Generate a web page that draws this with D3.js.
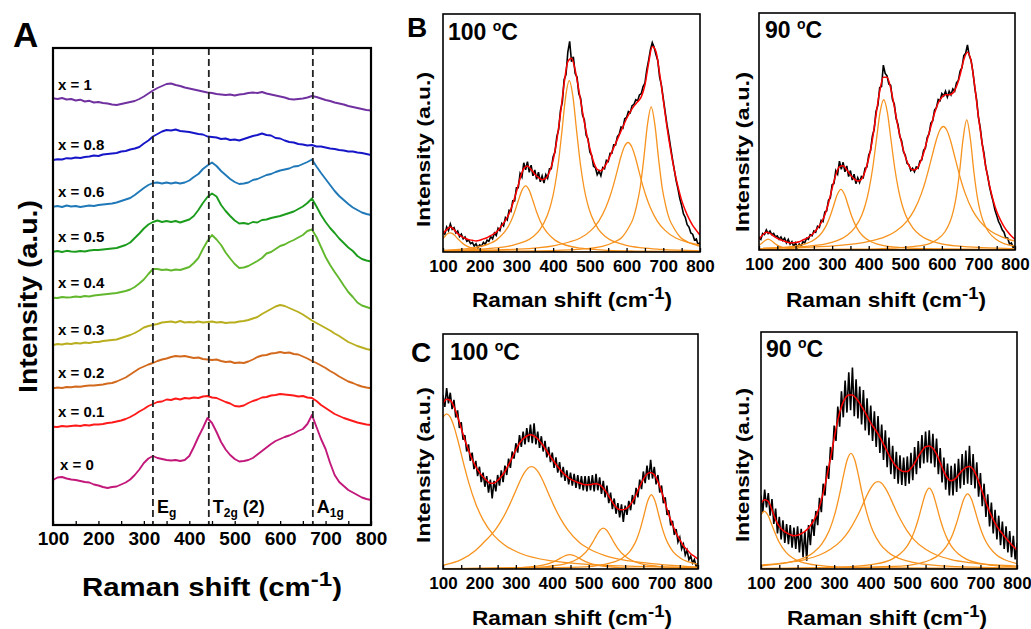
<!DOCTYPE html>
<html>
<head>
<meta charset="utf-8">
<script src="https://cdn.jsdelivr.net/npm/d3@7"></script>
<style>
body { margin: 0; background: #fff; }
text { font-family: "Liberation Sans", Arial, sans-serif; font-weight: bold; fill: #000; }
</style>
</head>
<body>
<script>
// ---------- data ----------
// Panel A: spectra sampled every 10 cm-1, values relative to each trace's own baseline
var shiftA = d3.range(100, 801, 10);
var labelsA = ["x = 1", "x = 0.8", "x = 0.6", "x = 0.5", "x = 0.4", "x = 0.3", "x = 0.2", "x = 0.1", "x = 0"];
var colorsA = ["#7030a0", "#1616c8", "#1f78b8", "#1c9c1c", "#62b82c", "#b8ae1e", "#d2691c", "#ff1a1a", "#c2187a"];
var offsetA = [425, 365, 318, 273, 227, 180, 137, 98, 45];

var specX10 = [1.7,1.0,2.0,0.5,1.0,-0.5,0.3,-1.5,-0.8,-2.5, -2.0,-3.0,-3.5,-4.5,-5.0,-4.0,-3.0,-2.0,-1.0,1.0,
  3.5,6.5,9.5,12.0,14.0,16.0,16.5,15.0,14.0,12.5, 11.5,10.5,9.5,8.5,7.5,7.0,6.0,5.5,5.0,5.5,
  4.5,5.5,6.0,7.0,7.5,7.0,8.0,6.5,5.5,4.5, 3.5,2.5,1.0,0.5,1.0,1.5,2.5,4.0,3.0,1.5,
  0.0,-1.0,-2.5,-3.5,-4.5,-6.0,-7.0,-8.0,-9.0,-10.0, -10.5];
var specX08 = [0.0,0.8,0.5,1.8,1.5,2.5,2.0,3.0,3.5,4.5, 4.0,5.5,6.0,6.5,7.0,8.5,9.0,10.5,11.5,13.0,
  16.5,19.5,23.5,26.0,28.5,30.0,29.5,30.5,29.0,28.5, 28.0,27.0,26.0,25.5,23.5,23.0,22.5,21.0,21.5,20.0,
  20.5,19.5,21.0,22.5,24.0,25.0,26.5,25.0,24.5,22.0, 21.5,19.5,18.0,17.5,16.0,15.5,14.5,15.0,13.5,13.5,
  12.5,11.5,11.0,10.0,9.5,8.5,8.5,7.5,7.0,6.0, 5.0];
var specX06 = [0.3,1.0,0.0,1.5,0.5,1.0,0.0,0.8,1.5,1.0, 2.0,2.5,3.0,3.5,4.5,6.0,7.5,9.0,12.0,15.5,
  19.0,22.0,24.0,24.5,23.5,24.5,23.5,24.5,23.5,24.5, 26.5,30.0,33.0,38.0,41.5,44.5,41.0,36.0,32.0,28.0,
  25.0,23.0,23.5,24.5,27.0,28.0,30.0,32.0,33.0,35.0, 36.5,37.5,38.5,40.5,41.0,43.0,45.0,47.5,40.5,34.0,
  28.0,22.0,16.0,11.0,7.0,3.0,-0.5,-3.0,-5.5,-7.0, -8.0];
var specX05 = [0.3,1.0,0.0,1.2,0.5,0.3,1.0,0.5,1.5,2.0, 2.0,2.5,3.0,3.5,4.0,5.5,7.0,9.5,14.0,18.5,
  23.5,27.5,30.0,31.5,30.0,31.0,30.0,31.0,29.5,31.0, 32.5,36.0,42.0,49.0,55.0,58.5,55.5,47.0,41.0,36.0,
  31.5,28.5,29.0,28.0,30.0,29.5,32.0,32.5,34.0,35.0, 36.0,37.5,39.0,40.5,43.0,45.5,49.0,53.5,45.5,37.0,
  30.0,24.0,19.0,13.5,9.0,4.5,1.0,-4.0,-7.0,-8.5, -9.5];
var specX04 = [0.3,0.0,1.0,0.5,0.8,1.5,1.0,2.0,1.5,2.5, 3.0,3.5,4.0,4.5,5.0,6.0,7.0,8.5,11.0,14.5,
  18.5,24.0,29.0,29.0,28.0,28.5,27.5,28.5,28.0,29.5, 31.0,35.0,40.0,49.0,57.0,63.0,58.5,53.0,45.5,39.5,
  34.0,30.0,30.5,32.0,34.5,37.0,40.0,44.5,46.0,49.0, 52.0,53.5,56.0,58.0,60.5,63.0,67.0,68.5,61.0,51.0,
  41.0,33.0,26.0,19.5,12.5,6.0,1.0,-4.5,-7.5,-9.0, -10.5];
var specX03 = [0.0,1.0,0.5,1.5,1.0,2.0,1.5,2.5,2.0,3.0, 3.0,4.0,4.5,5.0,5.5,7.0,8.5,10.0,12.0,14.5,
  17.5,19.0,20.0,21.0,22.5,23.0,23.5,22.5,24.0,22.5, 23.0,22.5,23.5,22.5,23.0,23.5,22.5,23.0,22.0,22.5,
  22.5,23.5,24.0,25.0,26.5,28.0,31.0,33.5,36.0,38.5, 40.0,39.0,37.0,35.0,33.0,30.5,27.5,24.5,22.0,19.5,
  17.0,14.5,11.5,9.0,6.0,3.0,1.0,-1.0,-2.5,-4.0, -5.0];
var specX02 = [-0.3,0.5,0.0,1.0,0.8,1.5,1.2,2.0,2.5,2.5, 3.0,3.5,4.5,5.0,6.5,8.5,10.5,13.5,16.5,19.5,
  21.5,23.5,25.0,27.0,28.5,29.5,31.0,32.0,31.5,32.0, 31.0,30.0,30.5,29.0,28.5,28.0,28.5,27.0,26.0,26.5,
  25.0,25.5,25.0,26.5,28.5,31.0,32.5,33.0,34.5,35.0, 36.0,35.0,35.5,34.0,33.5,31.5,29.5,27.0,25.0,22.5,
  20.0,17.0,14.5,11.5,9.0,6.5,5.0,3.0,1.5,0.5, -0.3];
var specX01 = [0.3,0.0,1.0,0.5,1.0,1.5,1.0,2.0,1.5,2.5, 2.5,3.0,4.0,4.5,5.5,6.5,8.0,10.0,12.5,15.5,
  18.0,21.0,23.0,25.0,25.5,27.5,27.0,28.5,27.5,29.0, 28.5,29.5,29.0,30.5,31.0,29.5,29.0,27.0,25.0,23.5,
  21.0,20.5,21.5,24.0,26.0,27.5,29.5,30.0,31.5,32.0, 33.0,32.5,32.0,31.5,30.5,31.0,29.5,29.0,26.0,22.0,
  19.0,16.0,13.0,11.0,9.0,7.5,6.0,4.5,3.5,2.5, 2.0];
var specX00 = [0.0,2.5,3.0,1.5,0.5,0.0,-1.0,-2.0,-2.5,-4.5, -5.5,-7.0,-8.0,-7.0,-6.5,-4.5,-2.5,0.5,5.0,10.5,
  17.0,21.5,24.0,22.0,21.0,20.0,19.5,20.0,19.0,20.0, 24.0,33.0,43.0,52.0,62.0,57.0,48.0,38.0,30.5,25.0,
  21.0,18.5,19.0,20.0,22.0,25.5,29.0,32.5,36.0,39.0, 41.0,43.0,44.5,46.5,49.0,51.0,56.0,65.0,53.0,41.0,
  31.0,17.0,5.0,-2.0,-6.0,-10.0,-12.5,-15.0,-17.5,-19.0, -20.0];
var specA = [specX10, specX08, specX06, specX05, specX04, specX03, specX02, specX01, specX00];

var modesA = [320, 443, 672];
var modeNames = [["E", "g", ""], ["T", "2g", " (2)"], ["A", "1g", ""]];

// Panels B, C: measured spectrum every 5 cm-1, fitted sum every 10 cm-1, fitted bands as [shift, intensity]
var shiftRaw = d3.range(100, 801, 5);
var shiftFit = d3.range(100, 801, 10);
var ticksX = d3.range(100, 801, 50);

var rawB100 = [8.5,7.5,10.5,9.0,11.8,9.5,10.2,8.0,8.8,6.5, 7.5,5.5,6.3,4.5,5.0,3.5,4.0,2.5,3.5,1.8,
  3.0,2.5,4.0,3.2,5.0,4.5,6.5,5.5,8.0,7.0, 10.0,9.0,12.0,11.0,14.5,13.5,17.5,17.0,21.5,21.5,
  27.0,27.0,33.0,31.5,37.5,34.5,38.0,33.5,36.5,32.0, 34.5,30.5,33.5,29.5,32.0,29.0,32.5,31.0,35.0,35.0,
  40.0,42.0,48.5,51.5,59.5,63.0,72.5,74.5,84.0,88.5, 80.0,82.0,75.0,73.5,66.5,64.5,57.5,55.5,49.0,47.5,
  42.0,40.5,36.0,35.5,32.5,34.0,32.0,35.5,35.0,38.5, 38.0,41.5,41.5,45.0,45.0,48.5,49.5,52.5,52.0,56.0,
  56.5,59.0,58.5,61.5,62.0,64.0,63.5,66.0,66.5,69.5, 71.0,76.5,80.5,85.0,88.0,86.0,83.0,80.5,73.5,70.0,
  64.5,59.0,53.5,49.0,44.0,39.0,34.5,30.0,26.5,22.5, 19.5,16.0,14.5,11.5,10.5,8.0,7.5,5.0,5.5,3.0, 4.0];
var fitB100 = [7.7,9.4,10.5,9.4,7.7,6.6,5.8,5.2,4.9,4.6, 4.9,5.5,6.0,6.9,7.7,9.1,11.1,13.3,16.1,20.3,
  25.3,30.9,35.1,36.1,34.7,32.7,31.3,30.4,30.9,33.7, 38.6,47.0,58.2,70.9,80.0,81.4,76.5,68.0,58.9,50.5,
  43.5,37.9,34.7,34.1,35.8,38.6,42.1,45.6,49.1,52.6, 56.1,58.9,61.3,63.1,65.2,70.1,79.3,86.3,84.2,75.1,
  63.8,52.6,42.8,34.4,27.4,21.7,17.5,14.0,11.2,9.1, 7.0];
var bandsB100 = [
  [[100,5.6],[105,6.5],[110,7.4],[115,7.9],[120,8],[125,7.8],[130,7.2],[140,5.6],[150,4.1],[160,2.9],[175,1.8],[200,1],[250,0.4],[350,0.15],[800,0]],
  [[100,0.7],[175,1.6],[225,3.4],[245,5.0],[265,7.9],[275,10],[285,12.9],[295,16.8],[305,21.5],[315,25.9],[325,27.8],[335,25.9],[345,21.5],[355,16.8],[365,12.9],[375,10],[385,7.9],[405,5],[425,3.4],[475,1.6],[550,0.7],[625,0.4],[800,0.17]],
  [[100,0.6],[194,1.1],[244,1.7],[294,3.0],[344,6.3],[364,9.4],[384,15.3],[394,20.1],[404,27.1],[414,37.2],[424,50.8],[434,65.2],[444,72],[454,65.2],[464,50.8],[474,37.2],[484,27.1],[494,20.1],[504,15.3],[524,9.4],[544,6.3],[594,3.0],[644,1.7],[694,1.1],[800,0.5]],
  [[100,0.45],[304,1.2],[404,2.7],[444,4.2],[474,5.9],[504,9.2],[524,12.9],[544,18.9],[554,23],[564,28],[574,33.8],[584,39.7],[594,44.2],[604,46],[614,44.2],[624,39.7],[634,33.8],[644,28],[654,23],[664,18.9],[684,12.9],[704,9.2],[734,5.9],[764,4.2],[800,3.0]],
  [[100,0.14],[367,0.5],[467,1.1],[534,2.4],[567,4.2],[587,6.1],[607,10.6],[617,13.7],[627,19.2],[637,27],[647,39.4],[657,53.6],[667,61],[677,53.6],[687,39.4],[697,27],[707,19.2],[717,13.7],[727,10.6],[747,6.1],[767,4.2],[800,2.4]]
];

var rawB90 = [5.5,4.5,7.0,6.5,8.5,7.0,8.0,6.5,7.0,5.5, 6.0,4.5,5.5,4.0,5.0,3.0,4.5,2.5,3.5,1.5,
  3.0,1.0,2.5,1.5,3.5,3.0,5.0,4.5,6.5,6.0, 8.0,7.5,10.0,9.5,12.5,12.0,16.0,16.5,21.0,22.0,
  27.5,28.0,33.5,32.0,37.5,34.0,37.0,33.0,35.5,31.0, 33.5,29.5,32.0,28.0,30.5,28.5,31.0,30.5,34.5,35.0,
  40.0,42.0,48.0,51.0,58.5,61.0,68.5,69.0,78.0,74.5, 73.5,70.0,69.5,63.5,61.5,55.5,53.0,48.0,46.0,41.5,
  40.0,36.5,36.0,33.5,34.5,33.0,35.0,34.5,37.5,38.0, 42.0,43.0,47.5,49.0,53.5,54.5,59.0,60.0,63.5,63.0,
  66.0,65.0,67.0,64.5,67.0,65.5,68.0,67.0,70.5,71.5, 75.5,77.0,82.0,83.0,86.5,82.0,80.0,75.0,68.5,63.5,
  56.0,51.5,45.0,41.0,35.0,31.5,27.0,23.5,20.5,17.0, 14.5,12.0,10.5,8.5,7.5,5.0,5.0,2.5,3.0,1.0, 2.0];
var fitB90 = [4.5,6.3,7.5,7.0,5.9,4.9,4.2,3.7,3.2,3.1, 3.2,3.5,4.2,4.9,5.9,7.3,9.2,11.5,14.8,19.7,
  26.0,31.7,35.2,35.6,33.8,31.7,30.0,29.1,29.8,33.1, 38.7,46.5,57.0,66.9,72.9,72.9,68.3,60.5,52.1,45.1,
  39.4,35.6,33.8,34.1,36.6,40.8,46.5,52.1,57.7,62.0, 64.5,65.5,65.5,66.2,69.0,73.9,80.3,83.4,79.6,69.0,
  56.3,45.1,35.2,27.5,21.1,16.2,12.7,9.9,7.7,5.9, 4.5];
var bandsB90 = [
  [[100,2.0],[105,2.5],[115,3.8],[125,4.6],[135,3.8],[145,2.5],[155,1.6],[175,0.75],[225,0.2],[800,0]],
  [[100,0.54],[174,1.2],[224,2.5],[244,3.7],[264,5.9],[274,7.8],[284,10.4],[294,14.0],[304,18.7],[314,23.4],[324,25.6],[334,23.4],[344,18.7],[354,14.0],[364,10.4],[374,7.8],[384,5.9],[404,3.7],[424,2.5],[474,1.2],[548,0.54],[800,0.2]],
  [[100,0.6],[241,1.7],[291,2.9],[341,6.2],[361,9.2],[381,14.7],[391,19.2],[401,25.7],[411,34.7],[421,46.4],[431,58.1],[441,63.4],[451,58.1],[461,46.4],[471,34.7],[481,25.7],[491,19.2],[501,14.7],[521,9.2],[541,6.2],[591,2.9],[641,1.7],[800,0.5]],
  [[100,0.6],[304,1.7],[404,3.7],[444,5.5],[474,7.9],[504,12.1],[524,16.7],[544,23.8],[554,28.5],[564,34.1],[574,40.1],[584,46],[594,50.4],[604,52.1],[614,50.4],[624,46],[634,40.1],[644,34.1],[654,28.5],[664,23.8],[684,16.7],[704,12.1],[734,7.9],[764,5.5],[800,3.7]],
  [[100,0.1],[368,0.35],[468,0.8],[536,1.7],[568,2.8],[588,4.5],[608,7.6],[618,10.3],[628,14.5],[638,21.4],[648,32.4],[658,46.8],[668,54.9],[678,46.8],[688,32.4],[698,21.4],[708,14.5],[718,10.3],[728,7.6],[748,4.5],[768,2.8],[800,1.7]]
];

var rawC100 = [74.0,69.0,77.0,70.5,75.0,68.0,72.0,64.5,67.5,60.0, 62.5,55.0,57.0,50.0,53.0,46.0,49.5,42.5,46.0,39.5,
  43.5,37.0,41.0,35.0,39.5,32.5,38.0,30.0,37.5,33.0, 40.0,35.5,42.0,37.0,44.0,40.0,47.0,43.0,50.0,47.0,
  53.5,49.5,57.0,52.0,58.5,53.0,60.0,54.0,61.5,53.5, 62.0,53.0,58.5,51.5,56.5,50.0,54.5,47.5,52.0,45.5,
  49.5,43.0,47.5,41.0,45.5,39.0,43.5,37.5,42.0,36.0, 41.0,35.5,40.5,34.5,40.0,34.0,39.5,33.5,39.5,33.0,
  39.5,33.5,40.0,33.0,40.5,33.5,39.0,32.0,37.5,30.5, 35.5,28.0,32.5,25.5,30.0,23.5,28.0,22.0,27.5,20.0,
  27.0,23.0,29.0,25.0,31.5,27.5,34.5,30.5,38.0,34.0, 41.5,36.5,44.0,38.0,46.5,38.5,43.5,36.0,40.0,32.5,
  35.5,28.0,30.5,23.0,25.0,18.5,20.5,14.5,17.0,11.5, 13.5,8.5,10.5,6.0,8.0,4.0,5.5,2.5,4.0,1.0, 2.5];
var fitC100 = [70.5,72.2,71.7,69.1,64.9,59.9,54.9,50.7,46.7,43.6, 41.1,39.1,37.7,36.5,36.5,37.7,39.4,41.5,44.3,47.4,
  50.7,53.5,55.4,56.6,57.1,56.6,55.4,53.5,51.4,49.0, 46.7,44.6,42.6,40.8,39.4,38.2,37.5,36.8,36.3,35.8,
  35.8,36.1,36.3,35.8,34.4,32.3,29.7,27.3,25.6,25.2, 25.5,26.6,28.7,31.6,35.1,38.2,40.4,41.1,40.1,37.2,
  33.0,28.0,23.1,18.8,15.3,12.5,9.9,8.2,6.5,5.4, 4.2];
var bandsC100 = [
  [[100,64.6],[110,66],[120,64.6],[130,60.7],[140,55.2],[150,49],[160,42.8],[170,37.1],[190,27.7],[210,20.9],[240,14.2],[270,10.1],[310,6.8],[410,3.2],[510,1.8],[610,1.2],[800,0.6]],
  [[100,1.6],[150,4.0],[190,8.0],[213,11.5],[243,16.5],[263,21.3],[283,27.4],[293,30.9],[303,34.5],[313,38],[323,40.9],[333,42.9],[343,43.6],[353,42.9],[363,40.9],[373,38],[383,34.5],[393,30.9],[403,27.4],[423,21.3],[443,16.5],[473,11.5],[503,8.4],[543,5.8],[586,4.1],[643,2.8],[800,0.8]],
  [[100,0.1],[298,0.5],[358,1.2],[388,2.2],[403,3.05],[418,4.2],[428,5.1],[438,5.8],[448,6.1],[458,5.8],[468,5.1],[478,4.2],[493,3.05],[508,2.2],[538,1.2],[598,0.5],[800,0.1]],
  [[100,0.14],[340,0.67],[390,1.15],[440,2.4],[460,3.5],[480,5.4],[500,8.7],[510,11.1],[520,13.9],[530,16.4],[540,17.4],[550,16.4],[560,13.9],[570,11.1],[580,8.7],[600,5.4],[620,3.5],[640,2.4],[690,1.15],[740,0.67],[800,0.4]],
  [[100,0.1],[472,0.8],[544,2.0],[572,3.1],[592,4.6],[612,7.3],[622,9.6],[632,12.8],[642,17.3],[652,23.1],[662,28.9],[672,31.6],[682,28.9],[692,23.1],[702,17.3],[712,12.8],[722,9.6],[732,7.3],[752,4.6],[772,3.1],[800,2.0]]
];

var rawC90 = [31.0,24.0,33.5,26.0,32.0,22.5,29.5,19.0,25.5,15.0, 22.0,12.5,20.5,11.0,19.0,10.5,18.5,9.0,17.5,8.5,
  18.0,7.0,17.0,5.0,16.0,3.5,18.5,10.0,21.0,14.0, 24.5,18.5,30.0,24.0,36.0,31.0,43.5,38.0,51.5,46.0,
  60.5,54.0,68.5,60.0,75.0,64.0,79.5,66.0,83.0,67.0, 85.0,64.5,80.0,63.5,77.0,61.0,75.5,58.5,72.0,56.5,
  69.0,54.0,66.5,51.5,64.5,49.0,61.0,46.0,58.5,43.0, 55.5,40.0,52.0,38.0,49.5,36.0,48.0,35.5,47.0,35.0,
  47.5,36.0,49.0,37.5,51.5,40.0,54.0,42.5,56.5,44.5, 58.0,45.0,58.5,44.5,57.0,43.0,55.0,40.0,51.0,36.5,
  47.0,33.5,44.5,31.0,43.5,31.0,44.5,32.5,46.5,34.0, 48.5,35.5,50.0,36.0,52.0,35.5,48.5,34.0,45.0,30.5,
  40.5,26.5,36.0,22.0,31.5,18.0,28.0,15.0,25.0,12.5, 22.5,10.0,20.0,8.5,18.0,7.0,16.0,5.0,14.0,4.0, 11.0];
var fitC90 = [27.8,29.2,28.5,25.0,20.8,18.0,16.3,15.2,14.5,14.0, 14.2,14.9,15.9,17.3,19.4,22.2,26.4,32.0,39.0,46.7,
  55.1,62.9,68.5,72.0,73.4,73.4,72.0,69.9,67.3,64.5, 61.7,59.3,57.0,54.2,51.2,48.1,45.3,43.2,41.8,41.1,
  41.1,42.5,44.6,47.4,49.8,51.6,51.9,50.9,48.5,44.9, 41.1,38.3,37.2,37.9,39.7,41.5,42.8,43.2,42.1,39.0,
  34.8,30.3,26.1,22.4,19.4,16.8,14.9,13.0,11.2,9.5, 8.1];
var bandsC90 = [
  [[100,23.0],[109,24.3],[119,22.7],[129,18.9],[139,15],[149,11.5],[169,6.9],[189,4.4],[209,3.0],[259,1.5],[359,0.55],[800,0.1]],
  [[100,1.35],[196,3.5],[246,7.3],[266,10.5],[286,16.0],[296,20.2],[306,25.6],[316,32.3],[326,39.8],[336,46.2],[346,48.8],[356,46.2],[366,39.8],[376,32.3],[386,25.6],[396,20.2],[406,16.0],[426,10.5],[446,7.3],[496,3.5],[592,1.35],[800,0.41]],
  [[100,1.7],[170,2.7],[220,4.0],[260,5.9],[290,8.3],[320,12.1],[340,16.0],[360,21.3],[370,24.4],[380,27.8],[390,31.2],[400,34.1],[410,36.2],[420,36.9],[430,36.2],[440,34.1],[450,31.2],[460,27.8],[470,24.4],[480,21.3],[500,16.0],[520,12.1],[550,8.3],[580,5.9],[620,4.0],[670,2.7],[740,1.7],[800,1.2]],
  [[100,0.23],[320,0.83],[410,2.05],[460,4.3],[480,6.3],[500,9.8],[510,12.5],[520,16.2],[530,21.0],[540,26.7],[550,31.9],[560,34.1],[570,31.9],[580,26.7],[590,21.0],[600,16.2],[610,12.5],[620,9.8],[640,6.3],[660,4.3],[710,2.05],[800,0.83]],
  [[100,0.14],[465,1.1],[530,2.3],[565,4.0],[585,5.8],[605,9.1],[615,11.6],[625,15.0],[635,19.5],[645,24.8],[655,29.6],[665,31.7],[675,29.6],[685,24.8],[695,19.5],[705,15.0],[715,11.6],[725,9.1],[745,5.8],[765,4.0],[800,2.3]]
];

// ---------- drawing ----------
var svg = d3.select("body").append("svg")
  .attr("width", 1031)
  .attr("height", 629);

// "Raman shift (cm-1)" with raised -1
function xTitle(x0, y0, size, len) {
  var t = svg.append("text")
    .attr("x", x0)
    .attr("y", y0)
    .attr("font-size", size)
    .attr("textLength", len)
    .attr("lengthAdjust", "spacingAndGlyphs");
  t.append("tspan").text("Raman shift (cm");
  t.append("tspan").attr("dy", -size * 0.4).attr("font-size", size * 0.82).text("-1");
  t.append("tspan").attr("dy", size * 0.4).text(")");
}

// rotated "Intensity (a.u.)"
function yTitle(bx, by, size, len) {
  svg.append("text")
    .attr("transform", "translate(" + bx + "," + by + ") rotate(-90)")
    .attr("font-size", size)
    .attr("textLength", len)
    .attr("lengthAdjust", "spacingAndGlyphs")
    .text("Intensity (a.u.)");
}

function bottomTicks(g, x, size, pad) {
  g.call(d3.axisBottom(x)
      .tickValues(ticksX)
      .tickSizeInner(-4)
      .tickSizeOuter(0)
      .tickPadding(pad)
      .tickFormat(function (d) { return d % 100 === 0 ? d : ""; }));
  g.select(".domain").remove();
  g.selectAll(".tick line").attr("stroke", "#000").attr("stroke-width", 1.3);
  g.selectAll(".tick text")
    .attr("font-size", size)
    .attr("font-family", "'Liberation Sans', Arial, sans-serif")
    .attr("font-weight", "bold")
    .attr("fill", "#000");
}

// Panel A
var xA = d3.scaleLinear().domain([100, 800]).range([53, 371]);
var yA = d3.scaleLinear().domain([0, 477]).range([525, 48]);

svg.append("clipPath").attr("id", "clipA")
  .append("rect").attr("x", 53).attr("y", 48).attr("width", 318).attr("height", 477);

var gA = svg.append("g").attr("clip-path", "url(#clipA)");
specA.forEach(function (s, k) {
  var line = d3.line()
    .x(function (d, i) { return xA(shiftA[i]); })
    .y(function (d) { return yA(d + offsetA[k]); });
  gA.append("path")
    .attr("d", line(s))
    .attr("fill", "none")
    .attr("stroke", colorsA[k])
    .attr("stroke-width", 1.9)
    .attr("stroke-linejoin", "round");
});

modesA.forEach(function (m) {
  svg.append("line")
    .attr("x1", xA(m)).attr("x2", xA(m))
    .attr("y1", 48).attr("y2", 525)
    .attr("stroke", "#222")
    .attr("stroke-width", 1.8)
    .attr("stroke-dasharray", "7,4");
});

labelsA.forEach(function (lab, k) {
  svg.append("text")
    .attr("x", k === 8 ? 60 : 58)
    .attr("y", yA(offsetA[k]) - 10)
    .attr("font-size", 15)
    .text(lab);
});

modesA.forEach(function (m, k) {
  var t = svg.append("text")
    .attr("x", xA(m) + 4)
    .attr("y", 513)
    .attr("font-size", 18);
  t.append("tspan").text(modeNames[k][0]);
  t.append("tspan").attr("dy", 4).attr("font-size", 12).text(modeNames[k][1]);
  if (modeNames[k][2]) t.append("tspan").attr("dy", -4).text(modeNames[k][2]);
});

svg.append("rect")
  .attr("x", 53).attr("y", 48).attr("width", 318).attr("height", 477)
  .attr("fill", "none").attr("stroke", "#000").attr("stroke-width", 2.2);

bottomTicks(svg.append("g").attr("transform", "translate(0,525)"), xA, 19, 7);
xTitle(82, 596, 25, 260);
yTitle(37, 393, 25, 193);
svg.append("text").attr("x", 13).attr("y", 47).attr("font-size", 35).text("A");

// Panels B and C
var panels = [
  { id: "b100", left: 443, right: 700, top: 14, bottom: 252, raw: rawB100, fit: fitB100, bands: bandsB100,
    temp: "100", tx: 448, ty: 40, xt: [472, 307], yt: [430, 227, 155] },
  { id: "b90", left: 759, right: 1015, top: 13, bottom: 250, raw: rawB90, fit: fitB90, bands: bandsB90,
    temp: "90", tx: 765, ty: 38, xt: [786, 307], yt: [749, 232, 160] },
  { id: "c100", left: 443, right: 698, top: 334, bottom: 569, raw: rawC100, fit: fitC100, bands: bandsC100,
    temp: "100", tx: 450, ty: 360, xt: [472, 625], yt: [430, 543, 156] },
  { id: "c90", left: 761, right: 1017, top: 332, bottom: 569, raw: rawC90, fit: fitC90, bands: bandsC90,
    temp: "90", tx: 766, ty: 357, xt: [787, 625], yt: [749, 542, 154] }
];

panels.forEach(function (p) {
  var x = d3.scaleLinear().domain([100, 800]).range([p.left, p.right]);
  var y = d3.scaleLinear().domain([0, 100]).range([p.bottom, p.top]);

  svg.append("clipPath").attr("id", "clip-" + p.id)
    .append("rect").attr("x", p.left).attr("y", p.top)
    .attr("width", p.right - p.left).attr("height", p.bottom - p.top);
  var g = svg.append("g").attr("clip-path", "url(#clip-" + p.id + ")");

  var rawLine = d3.line()
    .x(function (d, i) { return x(shiftRaw[i]); })
    .y(function (d) { return y(d); });
  g.append("path").attr("d", rawLine(p.raw))
    .attr("fill", "none").attr("stroke", "#000").attr("stroke-width", 1.6);

  var bandLine = d3.line()
    .x(function (d) { return x(d[0]); })
    .y(function (d) { return y(d[1]); })
    .curve(d3.curveMonotoneX);
  p.bands.forEach(function (b) {
    g.append("path").attr("d", bandLine(b))
      .attr("fill", "none").attr("stroke", "#f7931e").attr("stroke-width", 1.3);
  });

  var fitLine = d3.line()
    .x(function (d, i) { return x(shiftFit[i]); })
    .y(function (d) { return y(d); })
    .curve(d3.curveMonotoneX);
  g.append("path").attr("d", fitLine(p.fit))
    .attr("fill", "none").attr("stroke", "#ff0000").attr("stroke-width", 1.5);

  svg.append("rect")
    .attr("x", p.left).attr("y", p.top)
    .attr("width", p.right - p.left).attr("height", p.bottom - p.top)
    .attr("fill", "none").attr("stroke", "#000").attr("stroke-width", 1.6);

  bottomTicks(svg.append("g").attr("transform", "translate(0," + p.bottom + ")"), x, 17, 8);
  xTitle(p.xt[0], p.xt[1], 21, 200);
  yTitle(p.yt[0], p.yt[1], 19, p.yt[2]);

  var t = svg.append("text").attr("x", p.tx).attr("y", p.ty).attr("font-size", 23);
  t.append("tspan").text(p.temp + " ");
  t.append("tspan").attr("dy", -9).attr("font-size", 14).text("o");
  t.append("tspan").attr("dy", 9).text("C");
});

svg.append("text").attr("x", 407).attr("y", 37).attr("font-size", 28).text("B");
svg.append("text").attr("x", 411).attr("y", 362).attr("font-size", 28).text("C");
</script>
</body>
</html>
